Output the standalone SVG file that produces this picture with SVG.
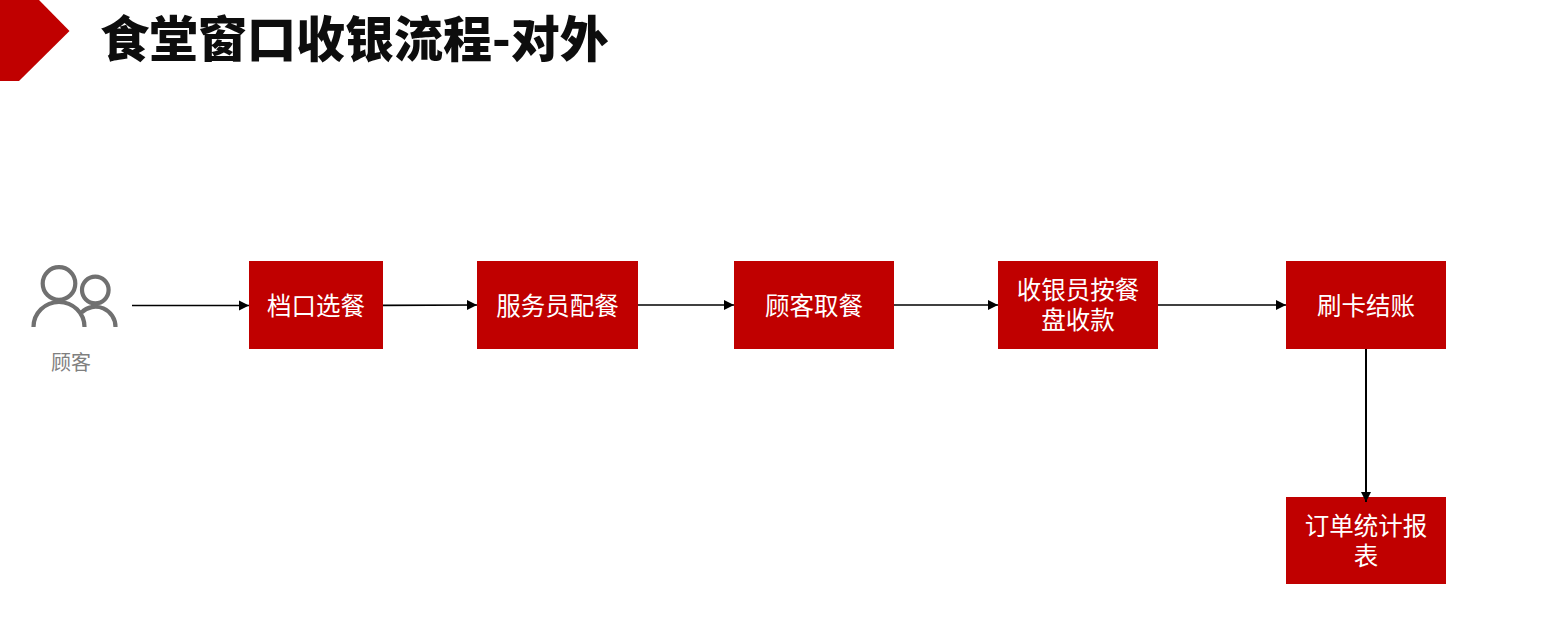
<svg xmlns="http://www.w3.org/2000/svg" width="1555" height="634" viewBox="0 0 1555 634">
<style>
text{font-family:"Noto Sans CJK SC","Liberation Sans",sans-serif;text-anchor:middle}
.box{fill:#c00000}
.lbl{fill:#fff;font-size:24.5px}
.title{fill:#0d0d0d;font-size:49px;font-weight:900;text-anchor:start}
.cap{fill:#7f7f7f;font-size:20px}
.c{fill:none;stroke:#000;stroke-width:1.7;marker-end:url(#a)}
.u{fill:none;stroke:#707070;stroke-width:4.2}
</style>
<defs><marker id="a" markerUnits="userSpaceOnUse" markerWidth="11" markerHeight="11" refX="10" refY="5.500" orient="auto"><path d="M0 .5L10 5.500L0 10.500z" fill="#000"/></marker></defs>
<rect width="1555" height="634" fill="#fff"/>
<g id="banner"><path class="box" d="M0 0H39L69.500 31L19 81H0z"/></g>
<g id="title"><text class="title" x="100" y="57">食堂窗口收银流程-对外</text></g>
<g id="customer">
<circle class="u" cx="59" cy="283.500" r="16.300"/>
<circle class="u" cx="95.300" cy="290" r="13.300"/>
<path class="u" d="M33.500 327A25.500 25 0 0 1 84.500 327"/>
<path class="u" d="M81.500 312.500A20 20 0 0 1 115.500 327"/>
<text class="cap" x="71" y="370">顾客</text>
</g>
<g id="n1"><rect class="box" x="249" y="261" width="134" height="88"/><text class="lbl" x="316" y="315">档口选餐</text></g>
<g id="n2"><rect class="box" x="477" y="261" width="161" height="88"/><text class="lbl" x="557.500" y="315">服务员配餐</text></g>
<g id="n3"><rect class="box" x="734" y="261" width="160" height="88"/><text class="lbl" x="814" y="315">顾客取餐</text></g>
<g id="n4"><rect class="box" x="998" y="261" width="160" height="88"/><text class="lbl"><tspan x="1078" y="299">收银员按餐</tspan><tspan x="1078" y="329">盘收款</tspan></text></g>
<g id="n5"><rect class="box" x="1286" y="261" width="160" height="88"/><text class="lbl" x="1366" y="315">刷卡结账</text></g>
<g id="n6"><rect class="box" x="1286" y="497" width="160" height="87"/><text class="lbl"><tspan x="1366" y="535">订单统计报</tspan><tspan x="1366" y="565">表</tspan></text></g>
<g id="connectors">
<path class="c" d="M132 305.500H249"/>
<path class="c" d="M383 305.300L477 305"/>
<path class="c" d="M638 305H734"/>
<path class="c" d="M894 305H998"/>
<path class="c" d="M1158 305H1286"/>
<path class="c" style="stroke-width:2" d="M1366 349V502"/>
</g>
</svg>
